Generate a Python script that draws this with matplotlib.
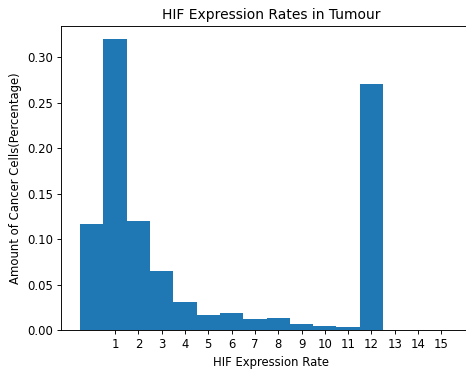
import numpy as np
import matplotlib
matplotlib.use('Agg')
import matplotlib.pyplot as plt

# HIF expression rate per bin and share of cancer cells
rates = [0, 1, 2, 3, 4, 5, 6, 7, 8, 9, 10, 11, 12]
amounts = [0.117, 0.320, 0.120, 0.065, 0.031, 0.017, 0.019,
           0.012, 0.013, 0.0066, 0.0044, 0.0029, 0.271]
xtick_vals = list(range(1, 16))

DPI = 83.3
fig = plt.figure(figsize=(466 / DPI, 374 / DPI), dpi=DPI)
ax = fig.add_axes([0.131, 0.1176, 0.901, 0.8135])

ax.bar(rates, amounts, width=1.0, color='#1f77b4', linewidth=0)

ax.set_xlim(-1.32, 16.7)
ax.set_ylim(0, 0.3348)
ax.set_xticks(xtick_vals)
ax.set_yticks([0, 0.05, 0.10, 0.15, 0.20, 0.25, 0.30])
ax.set_yticklabels(['0.00', '0.05', '0.10', '0.15', '0.20', '0.25', '0.30'])

ax.set_title('HIF Expression Rates in Tumour')
ax.set_xlabel('HIF Expression Rate')
ax.set_ylabel('Amount of Cancer Cells(Percentage)')

fig.savefig('out.png', dpi=DPI)
